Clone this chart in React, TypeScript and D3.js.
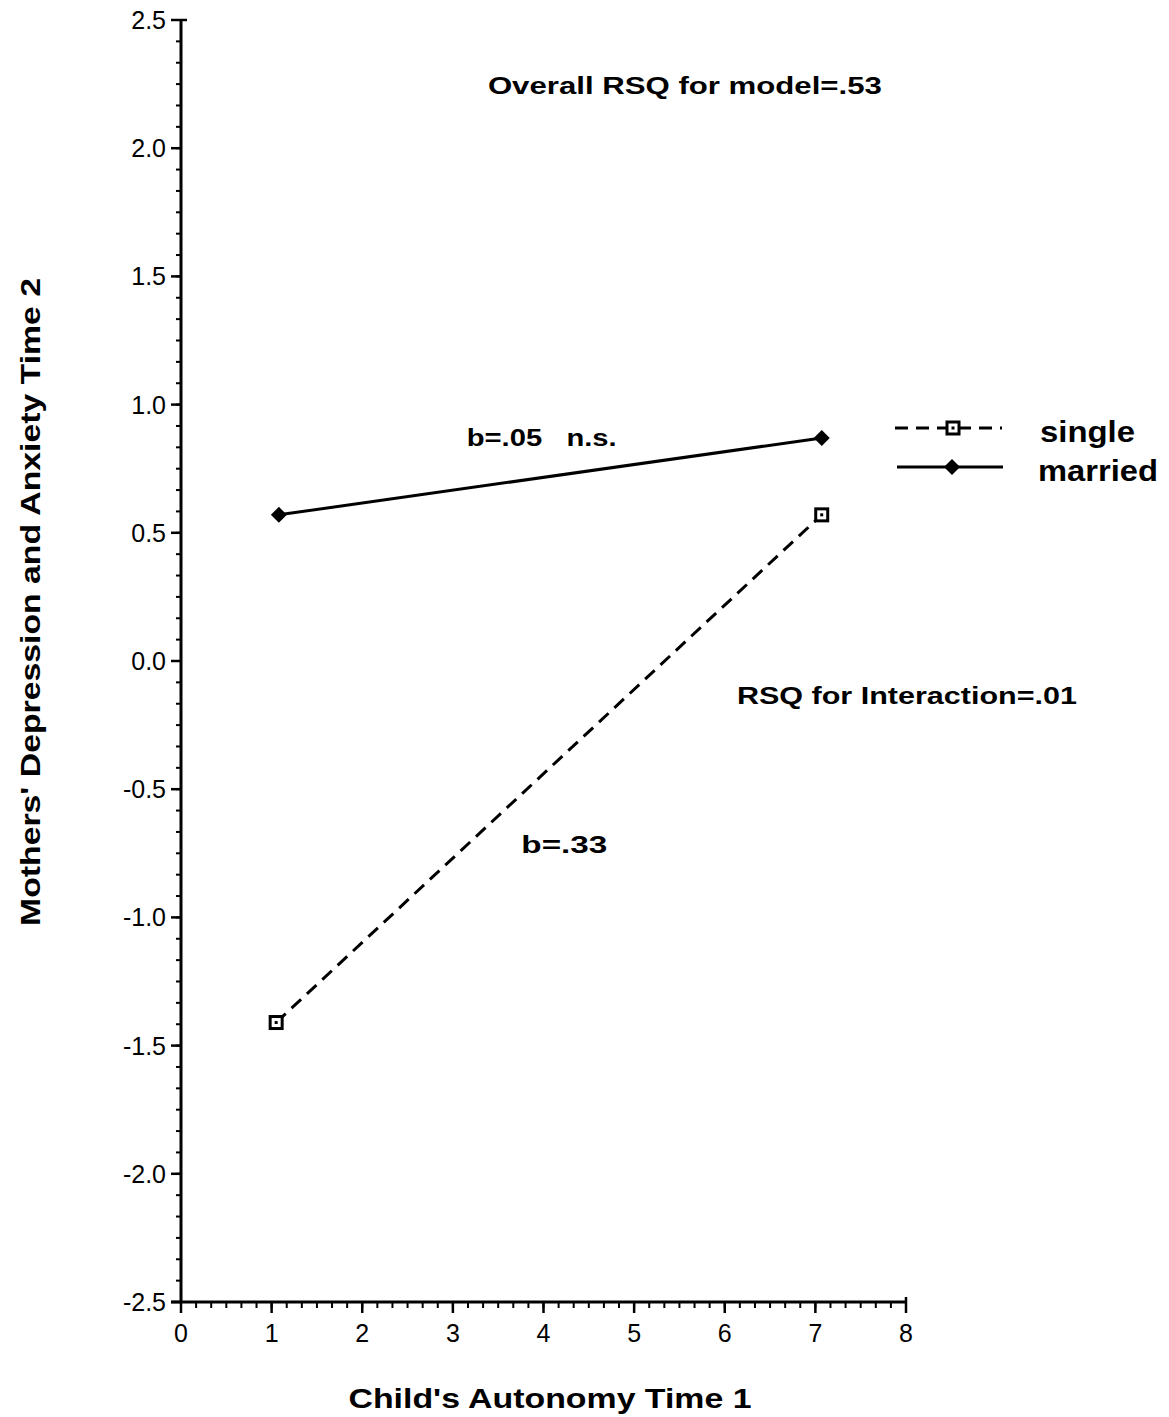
import React from "react";
import * as d3 from "d3";

const seriesNames = ["single", "married"];
const singleX = [1.05, 7.07];
const singleY = [-1.41, 0.57];
const marriedX = [1.08, 7.07];
const marriedY = [0.57, 0.87];
const xTicks = [0, 1, 2, 3, 4, 5, 6, 7, 8];
const yTicks = [2.5, 2.0, 1.5, 1.0, 0.5, 0.0, -0.5, -1.0, -1.5, -2.0, -2.5];
const yTickLabels = ["2.5", "2.0", "1.5", "1.0", "0.5", "0.0", "-0.5", "-1.0", "-1.5", "-2.0", "-2.5"];
const annotations = [
  { text: "Overall RSQ for model=.53", x: 5.56, y: 2.21, len: 394 },
  { text: "b=.05\u00a0\u00a0\u00a0n.s.", x: 3.98, y: 0.84, len: 150 },
  { text: "RSQ for Interaction=.01", x: 8.01, y: -0.168, len: 340 },
  { text: "b=.33", x: 4.23, y: -0.75, len: 86 },
];

const FONT = "'Liberation Sans', Arial, Helvetica, sans-serif";

export default function App() {
  const W = 1169, H = 1417;
  const x = d3.scaleLinear().domain([0, 8]).range([181, 906]);
  const y = d3.scaleLinear().domain([-2.5, 2.5]).range([1302, 20]);
  const x0 = x(0);
  const yBase = y(-2.5);

  const yMinor = d3.range(-2.5, 2.5 + 1e-9, 0.5 / 6);
  const xMinor = d3.range(0, 8 + 1e-9, 1 / 6);

  const line = d3.line<[number, number]>().x((d) => x(d[0])).y((d) => y(d[1]));
  const singlePts: [number, number][] = singleX.map((v, i) => [v, singleY[i]]);
  const marriedPts: [number, number][] = marriedX.map((v, i) => [v, marriedY[i]]);

  const square = (cx: number, cy: number, key: string) => (
    <g key={key}>
      <rect x={cx - 6} y={cy - 6} width={12} height={12} fill="#fff" stroke="#000" strokeWidth={3} />
      <rect x={cx - 1.5} y={cy - 1.5} width={3} height={3} fill="#000" />
    </g>
  );
  const diamond = (cx: number, cy: number, key: string) => (
    <path key={key} d={`M${cx},${cy - 8}L${cx + 8},${cy}L${cx},${cy + 8}L${cx - 8},${cy}Z`} fill="#000" />
  );

  return (
    <svg width={W} height={H} style={{ position: "absolute", left: 0, top: 0, background: "#fff" }} fontFamily={FONT}>
      <rect width={W} height={H} fill="#fff" />
      {/* y axis */}
      <line x1={x0} x2={x0} y1={y(2.5)} y2={yBase} stroke="#000" strokeWidth={3} />
      {yMinor.map((v, i) => (
        <line key={"ym" + i} x1={x0 - 5} x2={x0} y1={y(v)} y2={y(v)} stroke="#000" strokeWidth={2} />
      ))}
      {yTicks.map((v, i) => (
        <g key={"yt" + i}>
          <line x1={x0 - 10} x2={x0} y1={y(v)} y2={y(v)} stroke="#000" strokeWidth={2.5} />
          <text x={x0 - 15} y={y(v)} dy="0.36em" textAnchor="end" fontSize={25} fill="#000">
            {yTickLabels[i]}
          </text>
        </g>
      ))}
      <line x1={x0} x2={x0 + 6} y1={y(2.5)} y2={y(2.5)} stroke="#000" strokeWidth={2.5} />
      {/* x axis */}
      <line x1={x0 - 10} x2={x(8)} y1={yBase} y2={yBase} stroke="#000" strokeWidth={3} />
      {xMinor.map((v, i) => (
        <line key={"xm" + i} x1={x(v)} x2={x(v)} y1={yBase} y2={yBase + 6} stroke="#000" strokeWidth={2} />
      ))}
      {xTicks.map((v, i) => (
        <g key={"xt" + i}>
          <line x1={x(v)} x2={x(v)} y1={yBase} y2={yBase + 11} stroke="#000" strokeWidth={2.5} />
          <text x={x(v)} y={yBase + 40} textAnchor="middle" fontSize={25} fill="#000">
            {v}
          </text>
        </g>
      ))}
      <line x1={x(8)} x2={x(8)} y1={yBase - 5} y2={yBase} stroke="#000" strokeWidth={2.5} />

      {/* series */}
      <path d={line(marriedPts) || ""} fill="none" stroke="#000" strokeWidth={3} />
      <path d={line(singlePts) || ""} fill="none" stroke="#000" strokeWidth={3} strokeDasharray="13 8" />
      {marriedPts.map((p, i) => diamond(x(p[0]), y(p[1]), "md" + i))}
      {singlePts.map((p, i) => square(x(p[0]), y(p[1]), "sq" + i))}

      {/* annotations */}
      {annotations.map((a, i) => (
        <text key={"an" + i} x={x(a.x)} y={y(a.y)} textAnchor="middle" fontSize={24} fontWeight="bold" fill="#000"
          textLength={a.len} lengthAdjust="spacingAndGlyphs" style={{ whiteSpace: "pre" }}>
          {a.text}
        </text>
      ))}

      {/* legend */}
      <line x1={895} x2={1002} y1={428} y2={428} stroke="#000" strokeWidth={3} strokeDasharray="13 8" />
      {square(953, 428, "lsq")}
      <text x={1040} y={442} fontSize={30} fontWeight="bold" fill="#000" textLength={95} lengthAdjust="spacingAndGlyphs">{seriesNames[0]}</text>
      <line x1={897} x2={1003} y1={467} y2={467} stroke="#000" strokeWidth={3} />
      {diamond(952, 467, "ldm")}
      <text x={1038} y={481} fontSize={30} fontWeight="bold" fill="#000" textLength={120} lengthAdjust="spacingAndGlyphs">{seriesNames[1]}</text>

      {/* axis titles */}
      <text x={550} y={1408} textAnchor="middle" fontSize={28} fontWeight="bold" fill="#000" textLength={403} lengthAdjust="spacingAndGlyphs">
        Child's Autonomy Time 1
      </text>
      <text transform="translate(40,602) rotate(-90)" textAnchor="middle" fontSize={28} fontWeight="bold" fill="#000" textLength={648} lengthAdjust="spacingAndGlyphs">
        Mothers' Depression and Anxiety Time 2
      </text>
    </svg>
  );
}
